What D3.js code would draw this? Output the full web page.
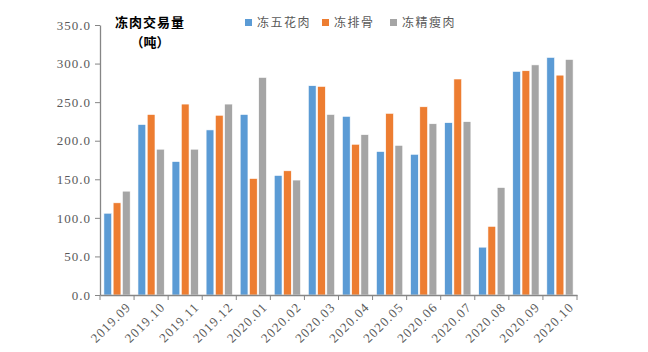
<!DOCTYPE html>
<html>
<head>
<meta charset="utf-8">
<script src="https://cdn.jsdelivr.net/npm/d3@7"></script>
<style>
    body { margin: 0; background: #fff; }
    .tick text { font-family: "Liberation Serif", serif; font-size: 13px; fill: #595959; }
</style>
</head>
<body>
<div id="chart"></div>
<script>
// data
let months = ["2019.09", "2019.10", "2019.11", "2019.12", "2020.01", "2020.02", "2020.03",
    "2020.04", "2020.05", "2020.06", "2020.07", "2020.08", "2020.09", "2020.10"];
let seriesNames = ["冻五花肉", "冻排骨", "冻精瘦肉"];
let porkBelly = [106, 221, 173, 214, 234, 155, 271.3, 231.6, 186, 182.4, 223.4, 62, 289.8, 308];
let ribs = [119.5, 234, 247.5, 233, 151, 161, 270.4, 195.4, 235.5, 244, 280, 89, 290.7, 285];
let leanMeat = [134.6, 189, 189, 247.5, 282, 149, 234, 207.9, 194, 222, 224.7, 139.3, 298.3, 305.3];
let yTicks = [0, 50, 100, 150, 200, 250, 300, 350];
let colors = ["#5b9bd5", "#ed7d31", "#a5a5a5"];

let seriesValues = [porkBelly, ribs, leanMeat];
let tableData = months.map((m, i) => ({
    month: m,
    values: seriesNames.map((s, j) => ({name: s, value: seriesValues[j][i]}))
}));

let width = 648, height = 352;
let margin = {top: 25, right: 71, bottom: 57, left: 100};

let svg = d3.select("#chart").append("svg")
    .attr("width", width)
    .attr("height", height);

let x0 = d3.scaleBand()
    .domain(months)
    .range([margin.left, width - margin.right]);

let x1 = d3.scaleBand()
    .domain(seriesNames)
    .range([3.9, x0.bandwidth() - 3.9])
    .paddingInner(0.16);

let y = d3.scaleLinear()
    .domain([0, 350])
    .range([height - margin.bottom, margin.top]);

let color = d3.scaleOrdinal().domain(seriesNames).range(colors);

// bars
let groups = svg.selectAll(".group")
    .data(tableData)
    .enter()
    .append("g")
    .attr("class", "group")
    .attr("transform", d => `translate(${x0(d.month)},0)`);

groups.selectAll("rect")
    .data(d => d.values)
    .enter()
    .append("rect")
    .attr("x", d => x1(d.name))
    .attr("y", d => y(d.value))
    .attr("width", x1.bandwidth())
    .attr("height", d => y(0) - y(d.value))
    .attr("fill", d => color(d.name))
    .attr("stroke", "#fff")
    .attr("stroke-width", 0.6);

// y axis
let yAxis = svg.append("g")
    .attr("class", "y-axis")
    .attr("transform", `translate(${margin.left},0)`)
    .call(d3.axisLeft(y).tickValues(yTicks).tickFormat(d3.format(".1f")).tickSizeInner(5).tickSizeOuter(0).tickPadding(4));

yAxis.select(".domain").attr("stroke", "#868686").attr("stroke-width", 1.3);
yAxis.selectAll(".tick line").attr("stroke", "#868686");
yAxis.selectAll(".tick text").attr("letter-spacing", "1px");

// x axis
let xAxis = svg.append("g")
    .attr("class", "x-axis")
    .attr("transform", `translate(0,${y(0)})`)
    .call(d3.axisBottom(x0).tickSize(0).tickPadding(6));

xAxis.select(".domain").attr("stroke", "#868686").attr("stroke-width", 1.3);
xAxis.selectAll(".tick text")
    .attr("text-anchor", "end")
    .attr("letter-spacing", "1.2px")
    .attr("transform", "translate(4,2) rotate(-45)");

// tick marks between the categories
let bounds = months.map(m => x0(m)).concat([x0.range()[1]]);
xAxis.selectAll(".sep")
    .data(bounds)
    .enter()
    .append("line")
    .attr("class", "sep")
    .attr("x1", d => d)
    .attr("x2", d => d)
    .attr("y1", 0)
    .attr("y2", 5)
    .attr("stroke", "#868686");

// axis title
let title = svg.append("g")
    .attr("font-family", "'Noto Sans CJK SC', sans-serif")
    .attr("font-weight", "bold")
    .attr("font-size", 13)
    .attr("fill", "#000");

title.append("text")
    .attr("x", 150)
    .attr("y", 27)
    .attr("text-anchor", "middle")
    .attr("letter-spacing", "1px")
    .text("冻肉交易量");

title.append("text")
    .attr("x", 150)
    .attr("y", 47)
    .attr("text-anchor", "middle")
    .text("（吨）");

// legend
let legendX = [245, 322, 390];
let legend = svg.selectAll(".legend")
    .data(seriesNames)
    .enter()
    .append("g")
    .attr("class", "legend")
    .attr("transform", (d, i) => `translate(${legendX[i]},16)`);

legend.append("rect")
    .attr("width", 7)
    .attr("height", 7)
    .attr("y", 3)
    .attr("fill", d => color(d));

legend.append("text")
    .attr("x", 12)
    .attr("y", 11)
    .attr("font-family", "'Noto Sans CJK SC', sans-serif")
    .attr("font-size", 12)
    .attr("letter-spacing", "1.5px")
    .attr("fill", "#595959")
    .text(d => d);
</script>
</body>
</html>
